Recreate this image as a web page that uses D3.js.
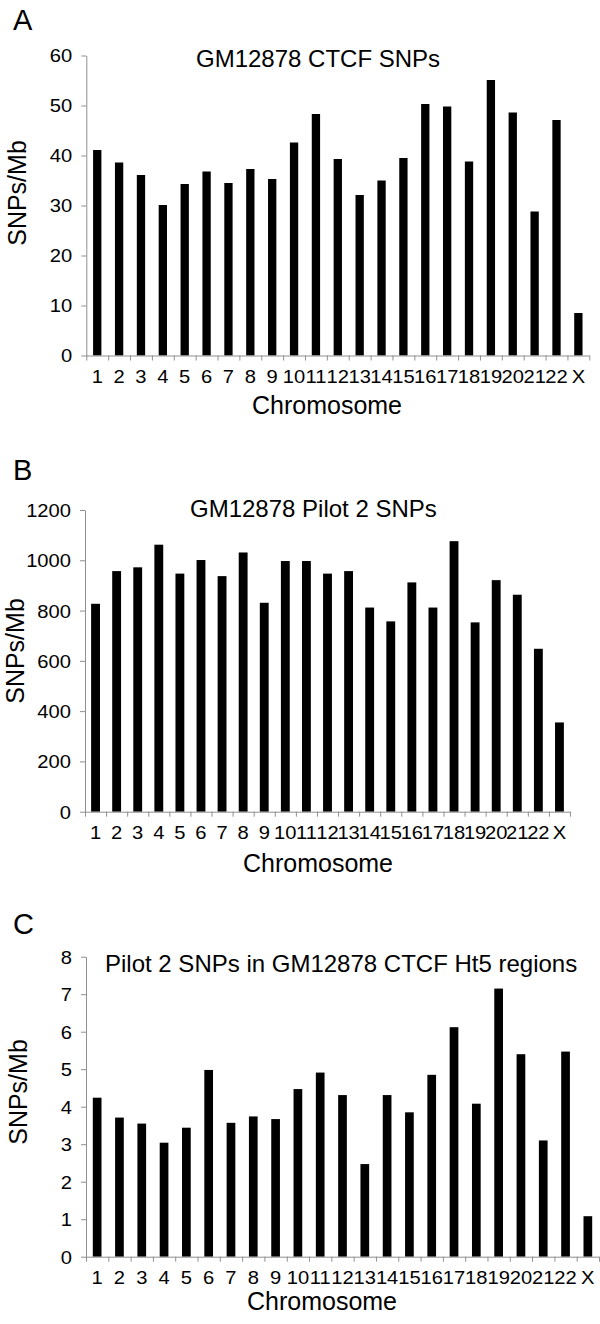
<!DOCTYPE html>
<html>
<head>
<meta charset="utf-8">
<script src="https://cdn.jsdelivr.net/npm/d3@7"></script>
<style>
  html, body { margin: 0; padding: 0; background: #fff; }
  svg { display: block; }
  text { font-family: "Liberation Sans", Arial, Helvetica, sans-serif; fill: #000; }
</style>
</head>
<body>
<svg id="chart" width="600" height="1324"></svg>
<script>
// ---- data ----
const chromosomes = ["1","2","3","4","5","6","7","8","9","10","11","12","13","14","15","16","17","18","19","20","21","22","X"];
const ctcfSnps   = [41.1, 38.6, 36.1, 30.1, 34.3, 36.8, 34.5, 37.3, 35.3, 42.6, 48.3, 39.3, 32.1, 35.0, 39.5, 50.3, 49.8, 38.8, 55.1, 48.6, 28.8, 47.1, 8.5];
const pilot2Snps = [827, 957, 972, 1062, 947, 1001, 937, 1031, 831, 997, 997, 947, 957, 812, 757, 912, 812, 1076, 753, 921, 863, 648, 355];
const ht5Snps    = [4.24, 3.71, 3.55, 3.04, 3.44, 4.98, 3.57, 3.74, 3.67, 4.47, 4.91, 4.31, 2.47, 4.31, 3.85, 4.85, 6.12, 4.08, 7.15, 5.40, 3.10, 5.47, 1.08];
const ticksA = [0, 10, 20, 30, 40, 50, 60];
const ticksB = [0, 200, 400, 600, 800, 1000, 1200];
const ticksC = [0, 1, 2, 3, 4, 5, 6, 7, 8];

const panels = [
  { letter: "A", title: "GM12878 CTCF SNPs", values: ctcfSnps, ticks: ticksA,
    x0: 86.3, x1: 589.3, yBase: 355.5, yTop: 55.5, barFrac: 0.38,
    titleX: 196, titleY: 66.5, letterY: 30, tickY: 28,
    xlabX: 327, xlabY: 414, ylabX: 26, ylabY: 193 },
  { letter: "B", title: "GM12878 Pilot 2 SNPs", values: pilot2Snps, ticks: ticksB,
    x0: 85, x1: 570, yBase: 811.7, yTop: 510, barFrac: 0.42,
    titleX: 190, titleY: 517, letterY: 480, tickY: 27,
    xlabX: 318, xlabY: 872, ylabX: 24, ylabY: 651 },
  { letter: "C", title: "Pilot 2 SNPs in GM12878 CTCF Ht5 regions", values: ht5Snps, ticks: ticksC,
    x0: 86, x1: 599, yBase: 1256.7, yTop: 956.7, barFrac: 0.39,
    titleX: 105, titleY: 972, letterY: 934, tickY: 27,
    xlabX: 322, xlabY: 1310, ylabX: 27, ylabY: 1092 }
];

const svg = d3.select("#chart");
const axisColor = "#8f8f8f";
const tickFont = 18, stretch = 1.12;

panels.forEach(p => {
  const g = svg.append("g");
  const yMax = p.ticks[p.ticks.length - 1];
  const y = d3.scaleLinear().domain([0, yMax]).range([p.yBase, p.yTop]);
  const x = d3.scaleBand().domain(chromosomes).range([p.x0, p.x1])
    .paddingInner(1 - p.barFrac).paddingOuter((1 - p.barFrac) / 2);
  const xEdge = d3.scaleLinear().domain([0, chromosomes.length]).range([p.x0, p.x1]);

  // bars
  g.selectAll("rect.bar").data(p.values).join("rect")
    .attr("class", "bar")
    .attr("x", (d, i) => x(chromosomes[i]))
    .attr("width", x.bandwidth())
    .attr("y", d => y(d))
    .attr("height", d => y(0) - y(d))
    .attr("fill", "#000");

  // y axis
  const yAxis = d3.axisLeft(y).tickValues(p.ticks).tickSize(5).tickSizeOuter(0)
    .tickFormat(d3.format("d"));
  const ya = g.append("g").attr("transform", `translate(${p.x0},0)`).call(yAxis);
  ya.attr("font-size", tickFont).attr("font-family", null);
  ya.select(".domain").attr("stroke", axisColor);
  ya.selectAll(".tick line").attr("stroke", axisColor);
  ya.selectAll(".tick text")
    .attr("x", 0).attr("dy", "0.36em")
    .attr("text-anchor", "end")
    .attr("transform", `translate(-14,0) scale(${stretch},1)`);

  // x axis: edge ticks
  const xEdgeAxis = d3.axisBottom(xEdge).tickValues(d3.range(chromosomes.length + 1))
    .tickSize(5).tickSizeOuter(0).tickFormat("");
  const xa = g.append("g").attr("transform", `translate(0,${p.yBase})`).call(xEdgeAxis);
  xa.select(".domain").attr("stroke", axisColor);
  xa.selectAll(".tick line").attr("stroke", axisColor);

  // x labels
  const xLab = d3.axisBottom(x).tickSize(0);
  const xl = g.append("g").attr("transform", `translate(0,${p.yBase})`).call(xLab);
  xl.attr("font-size", tickFont).attr("font-family", null);
  xl.select(".domain").remove();
  xl.selectAll(".tick text")
    .attr("y", p.tickY).attr("dy", 0)
    .attr("transform", `scale(${stretch},1)`);

  // panel letter
  g.append("text").attr("x", 13).attr("y", p.letterY)
    .attr("font-size", 29).text(p.letter);

  // title
  g.append("text").attr("x", p.titleX).attr("y", p.titleY)
    .attr("font-size", 24).text(p.title);

  // x axis label
  g.append("text").attr("x", p.xlabX).attr("y", p.xlabY)
    .attr("text-anchor", "middle").attr("font-size", 25).text("Chromosome");

  // y axis label
  g.append("text")
    .attr("transform", `translate(${p.ylabX},${p.ylabY}) rotate(-90)`)
    .attr("text-anchor", "middle").attr("font-size", 25).text("SNPs/Mb");
});
</script>
</body>
</html>
